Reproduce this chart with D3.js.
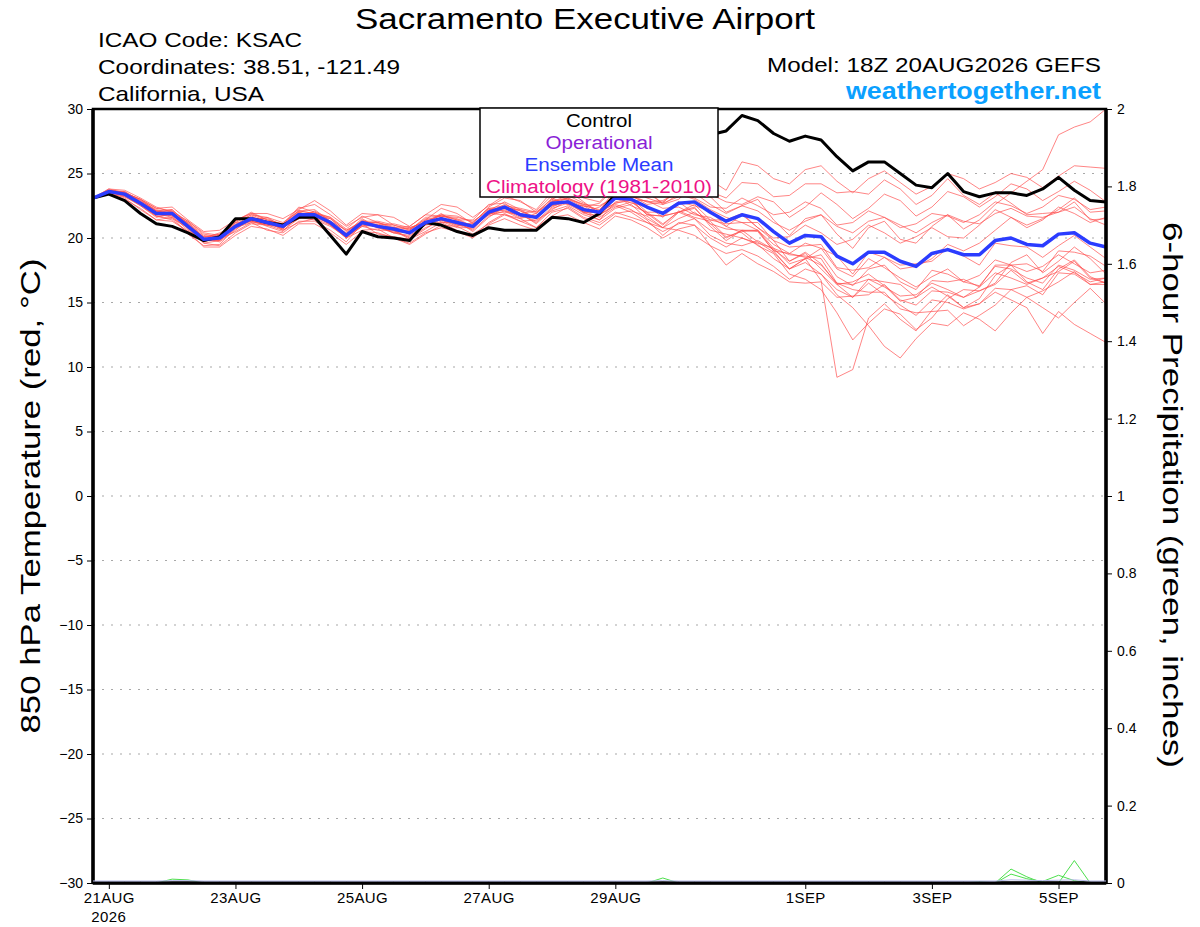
<!DOCTYPE html>
<html>
<meta charset="utf-8">
<head>
    <script src="https://d3js.org/d3.v7.min.js"></script>
    <style>
        body { margin: 0; background: #fff; }
        text { font-family: "Liberation Sans", Arial, sans-serif; }
    </style>
</head>
<body>
    <div id="chart"></div>

<script>
    // run info
    const runStart = Date.UTC(2026, 7, 20, 18);
    const stepHours = 6;

    // 850 hPa temperature, deg C, every 6 h
    const control = [
        23.1,23.4,22.9,21.9,21.1,20.9,20.4,19.8,20.1,21.5,21.5,21.2,21.0,21.6,21.6,20.2,
        18.75,20.5,20.1,20.0,19.8,21.2,21.0,20.5,20.2,20.8,20.6,20.6,20.6,21.6,21.5,21.2,21.9,
        23.4,24.5,25.5,26.2,27.0,27.6,28.0,28.3,29.5,29.1,28.1,27.5,27.9,27.6,26.3,25.2,
        25.9,25.9,25.0,24.1,23.9,25.0,23.6,23.2,23.5,23.5,23.3,23.8,24.7,23.7,22.9,22.8
    ];
    const ensembleMean = [
        23.1,23.6,23.4,22.7,21.9,21.9,20.9,19.9,20.0,20.9,21.5,21.2,20.9,21.8,21.8,21.2,
        20.2,21.2,20.9,20.7,20.4,21.2,21.5,21.2,20.9,22.0,22.4,21.8,21.6,22.7,22.8,22.2,22.0,
        23.1,23.0,22.4,21.9,22.7,22.8,22.0,21.3,21.8,21.5,20.5,19.6,20.2,20.1,18.6,18.0,
        18.9,18.9,18.2,17.8,18.8,19.1,18.7,18.7,19.8,20.0,19.5,19.4,20.3,20.4,19.6,19.3
    ];
    const members = [
        [23.1,23.8,23.7,23.1,22.4,22.0,21.3,20.4,20.2,21.3,21.9,21.4,21.0,22.3,22.6,21.8,
         20.9,21.6,21.8,21.0,20.7,21.4,22.3,21.9,21.1,22.4,23.1,22.9,22.0,23.0,23.7,22.8,21.9,
         23.5,24.4,23.8,22.6,23.0,24.1,23.2,22.0,22.5,23.0,21.4,20.2,21.5,21.8,20.3,19.2,
         20.8,21.3,19.9,19.6,20.9,21.8,20.7,21.4,22.6,23.5,24.4,25.3,28.0,28.6,29.0,30.0],
        [23.1,23.7,23.5,23.0,22.3,22.4,21.4,20.5,20.6,21.4,21.9,21.9,21.5,22.2,22.9,22.1,
         21.0,21.9,21.8,21.6,20.9,21.8,22.6,22.4,21.6,22.5,23.3,22.8,22.2,23.6,23.9,23.1,22.8,
         24.0,24.7,24.2,23.4,24.4,25.2,24.5,23.7,25.9,25.6,24.6,24.2,25.3,25.6,24.4,23.5,
         24.6,25.2,24.3,23.4,24.0,25.0,24.6,23.8,24.3,25.0,24.7,23.9,24.8,25.6,25.5,25.4],
        [23.1,23.5,23.1,22.2,21.4,21.6,20.3,19.4,19.5,20.8,21.2,20.6,20.4,21.3,21.3,20.6,
         19.7,21.1,20.3,20.1,19.9,20.5,21.2,20.6,20.1,21.2,21.9,21.3,20.8,22.0,22.3,21.5,21.0,
         21.9,22.1,21.7,20.8,21.5,22.0,21.1,20.0,20.6,19.7,18.9,17.6,18.4,16.7,9.2,9.8,
         13.8,14.9,13.7,12.8,14.4,15.6,14.6,15.3,17.1,17.9,16.6,16.0,17.6,18.3,17.0,16.5],
        [23.1,23.4,23.2,22.6,21.7,21.5,20.8,19.6,19.4,20.4,21.1,21.0,20.6,21.2,21.5,21.0,
         20.0,20.6,20.7,20.0,19.5,20.3,21.0,20.9,20.3,21.1,21.8,21.5,20.8,21.7,22.4,21.6,21.2,
         22.0,21.6,21.2,20.5,21.1,21.5,20.2,19.6,19.4,19.8,19.1,18.2,18.9,18.0,16.4,16.6,
         17.2,16.3,15.1,15.4,16.2,15.5,14.6,14.9,15.8,15.2,14.6,12.6,14.3,13.3,12.6,11.9],
        [23.1,23.6,23.6,22.9,22.1,21.7,21.1,20.0,19.7,20.6,21.6,21.3,20.6,21.5,22.1,21.3,
         20.1,21.0,21.1,20.6,19.9,20.7,21.5,21.3,20.5,21.6,22.4,21.9,21.1,22.2,22.9,22.0,21.4,
         22.8,23.1,22.0,21.1,22.0,22.4,20.9,19.8,20.6,20.5,19.0,17.6,18.1,17.2,15.6,14.6,
         13.2,11.6,10.7,12.2,13.4,13.2,14.2,13.7,12.8,14.2,15.4,14.6,13.8,15.0,16.1,14.9],
        [23.1,23.7,23.4,22.8,22.0,22.2,21.0,20.1,20.3,21.0,21.4,21.6,21.2,22.1,21.9,21.5,
         20.6,21.3,21.0,21.1,20.8,21.2,21.8,21.7,21.2,22.3,22.5,22.3,22.0,22.8,23.1,22.6,22.5,
         23.2,22.9,22.9,22.3,22.4,21.8,21.6,20.9,20.4,19.4,18.8,17.2,16.8,16.0,14.2,12.1,
         13.4,14.5,14.1,12.9,13.8,15.3,16.0,15.9,16.5,18.1,18.7,17.3,18.2,19.3,18.4,17.2],
        [23.1,23.6,23.2,22.5,21.6,21.9,20.7,19.7,20.2,21.2,21.3,21.0,21.0,22.0,21.6,21.1,
         20.4,21.5,20.8,20.4,20.6,21.5,21.4,20.9,21.2,22.3,22.1,21.5,21.9,23.1,22.6,22.0,22.4,
         23.3,22.5,22.0,22.0,22.8,21.9,21.4,21.4,21.9,20.8,20.0,20.1,21.0,20.4,19.5,19.9,
         21.0,20.4,19.6,20.1,20.8,20.1,20.0,21.0,22.2,21.6,20.8,21.4,22.4,21.9,21.2,21.6],
        [23.1,23.5,23.3,22.6,21.7,21.4,20.5,19.8,19.9,20.5,21.2,21.1,20.8,21.6,21.4,20.9,
         20.1,20.9,20.6,20.6,20.0,20.8,21.3,20.8,20.8,21.9,21.8,21.3,21.4,22.1,22.5,21.8,21.4,
         22.3,22.6,21.5,20.8,22.0,21.5,20.6,20.3,20.0,19.6,19.2,18.0,18.4,18.7,17.0,16.3,
         17.6,17.9,16.6,16.0,17.5,17.2,16.6,17.1,18.3,17.9,17.4,17.8,18.7,18.0,17.3,17.5],
        [23.1,23.8,23.5,23.0,22.3,22.1,21.3,20.3,20.1,21.3,22.0,21.4,21.1,22.4,22.0,21.6,
         20.7,21.7,21.2,20.8,20.9,21.8,21.7,21.4,21.4,22.6,22.7,21.9,22.1,23.3,23.0,22.4,22.7,
         23.9,23.3,22.6,22.8,23.6,23.1,22.4,22.3,23.1,22.5,21.8,22.0,22.8,22.3,21.0,21.2,
         22.1,21.6,20.8,21.1,21.9,21.7,21.2,21.8,22.8,22.5,21.9,22.4,23.3,23.0,22.2,22.4],
        [23.1,23.4,23.0,22.3,21.4,21.3,20.5,19.3,19.3,20.2,20.9,20.7,20.2,21.1,21.1,20.4,
         19.5,20.5,20.4,20.0,19.6,20.4,20.8,20.5,20.0,21.0,21.5,21.0,20.6,21.6,21.8,21.2,20.7,
         21.7,21.4,20.8,20.0,20.7,21.0,20.0,19.3,20.0,19.5,18.4,17.6,18.4,19.2,17.6,17.0,
         18.4,17.7,16.9,16.2,17.0,17.6,16.6,16.3,17.8,17.6,16.9,16.5,17.9,17.5,16.8,16.9],
        [23.1,23.6,23.5,22.7,21.9,22.1,20.8,19.9,20.3,20.8,21.7,21.2,20.7,22.0,21.7,21.5,
         20.3,21.4,20.9,20.6,20.8,21.2,21.9,21.1,20.8,22.2,22.3,22.2,21.5,23.0,22.6,22.5,21.8,
         22.6,22.2,21.4,20.2,21.2,21.0,19.4,18.8,19.1,18.6,17.8,16.8,17.6,17.2,16.0,15.4,
         16.5,15.6,14.8,14.0,15.2,15.0,14.5,14.9,16.1,16.0,16.3,15.6,17.3,17.2,16.4,16.6],
        [23.1,23.6,23.4,22.9,22.2,21.9,21.2,20.2,20.0,21.1,21.5,21.5,21.0,21.8,22.0,21.2,
         20.3,21.2,21.2,20.9,20.3,21.4,21.7,21.5,20.9,22.0,22.6,22.1,21.5,22.6,23.1,22.5,22.2,
         23.5,23.8,23.1,22.7,23.2,23.5,22.6,21.9,22.5,22.1,21.2,20.6,21.3,21.8,20.9,20.4,
         21.3,21.6,21.0,20.4,21.2,21.8,21.3,21.1,21.9,22.3,21.7,21.6,22.0,22.4,21.5,21.0],
        [23.1,23.6,23.3,22.5,21.7,21.8,20.9,19.6,19.8,20.9,21.3,21.1,20.9,21.6,21.8,21.0,
         20.0,21.2,20.8,20.5,20.4,21.1,21.4,21.0,21.0,21.9,22.2,21.6,21.7,22.5,22.8,21.9,21.7,
         23.1,23.3,22.8,22.6,23.4,23.0,22.2,21.6,21.2,20.6,19.5,18.8,18.5,17.9,16.5,16.4,
         16.8,16.2,15.5,15.6,16.5,16.0,15.4,16.2,17.3,16.9,16.4,16.9,17.8,17.3,16.6,16.9],
        [23.1,23.7,23.6,22.8,22.1,22.2,21.1,20.1,20.1,21.2,21.8,21.3,21.1,22.1,21.9,21.6,
         20.5,21.3,21.3,21.0,20.6,21.6,21.7,21.6,21.3,22.1,22.8,22.2,21.9,22.8,23.3,22.7,22.1,
         23.8,23.2,22.8,22.9,23.6,23.4,23.4,22.8,22.6,23.2,22.8,21.6,22.4,23.5,22.6,21.5,
         22.3,23.4,22.9,21.7,22.4,23.6,23.2,22.4,23.2,24.2,23.8,22.9,23.6,24.4,23.7,22.8],
        [23.1,23.5,23.3,22.7,21.9,21.6,20.8,19.9,19.8,20.7,21.4,20.9,20.5,21.8,21.6,21.2,
         20.0,20.9,21.0,20.4,20.1,21.0,21.2,21.2,20.6,21.7,22.1,21.8,21.2,22.3,22.7,22.1,21.6,
         22.4,22.8,21.9,21.0,22.1,21.6,21.3,20.1,20.5,20.6,19.0,18.8,19.6,19.2,18.6,17.2,
         18.9,18.5,17.9,18.0,18.2,19.2,18.6,17.9,19.6,19.4,19.3,18.5,19.4,20.2,19.3,18.4],
        [23.1,23.6,23.4,22.6,21.8,22.0,20.9,19.9,20.1,20.9,21.4,21.2,20.9,21.7,21.8,21.2,
         20.3,21.2,20.8,20.8,20.3,21.3,21.4,21.1,21.1,21.8,22.4,21.7,21.7,22.6,22.8,22.3,21.8,
         22.5,22.0,21.2,20.8,20.6,20.2,19.4,17.9,18.8,18.0,17.4,16.6,16.5,16.6,15.4,15.5,
         15.6,16.4,15.2,14.8,15.9,15.8,15.4,15.9,16.4,17.5,16.5,16.9,17.4,18.2,16.9,16.5],
        [23.1,23.7,23.5,23.0,22.1,21.8,21.2,20.0,20.4,21.0,21.8,21.6,20.9,22.1,22.2,21.3,
         20.6,21.2,21.2,20.7,20.7,21.1,21.8,21.4,20.9,22.2,22.4,22.1,21.6,22.9,23.0,22.6,22.0,
         23.0,23.8,23.5,22.7,24.0,24.6,23.6,23.1,24.3,24.2,23.2,23.3,24.2,24.2,23.5,23.6,
         23.4,24.5,23.8,22.6,23.3,24.6,23.3,22.6,23.5,22.7,21.8,21.9,22.0,22.8,21.4,21.5],
        [23.1,23.5,23.4,22.7,21.9,21.7,20.6,19.8,19.8,20.9,21.3,21.0,20.8,21.5,21.9,21.0,
         20.1,21.0,20.9,20.4,20.2,21.0,21.6,21.0,20.7,21.9,22.0,21.8,21.3,22.4,22.9,22.0,22.0,
         22.7,23.0,21.8,21.7,22.0,22.6,21.4,21.1,21.2,21.2,19.8,19.3,19.4,19.5,17.7,17.5,
         17.7,18.5,17.6,17.8,18.4,19.5,19.0,19.6,20.6,21.6,21.0,21.5,22.2,23.1,22.0,22.1],
        [23.1,23.6,23.3,22.8,22.0,22.0,20.9,19.7,20.1,20.8,21.6,21.1,20.9,21.9,21.7,21.3,
         20.2,21.3,20.9,20.8,20.3,21.3,21.5,21.3,20.8,22.1,22.3,21.9,21.5,22.8,22.7,22.3,21.9,
         23.2,22.7,22.5,21.6,22.8,22.5,22.1,20.9,21.8,20.8,19.8,18.2,18.8,17.6,16.4,15.4,
         16.8,16.6,16.4,15.4,16.7,16.6,16.8,16.2,17.9,17.9,18.0,17.4,19.0,18.9,18.6,17.8],
        [23.1,23.5,23.5,22.8,22.1,21.9,21.0,19.8,20.0,21.0,21.4,21.2,20.7,21.9,21.8,21.1,
         20.1,21.2,21.0,20.6,20.4,21.1,21.6,21.1,20.9,21.8,22.4,21.7,21.7,22.5,22.9,22.0,22.0,
         22.7,22.9,21.8,21.7,22.0,22.3,21.1,20.7,20.6,20.6,19.2,18.7,18.6,18.4,16.5,16.0,
         15.8,15.8,14.5,14.2,14.3,14.4,13.2,14.0,14.8,16.0,15.4,15.9,16.6,17.4,16.4,16.4]
    ];

    // 6-hour precipitation, inches
    const precipMembers = [
        [0,0,0,0,0,0.010,0.008,0,0,0,0,0,0,0,0,0, 0,0,0,0,0,0,0,0,0,0,0,0,0,0,0,0,0,
         0,0,0,0,0,0,0,0,0,0,0,0,0,0,0,0, 0,0,0,0,0,0,0,0,0,0,0,0,0,0,0,0],
        [0,0,0,0,0,0,0,0,0,0,0,0,0,0,0,0, 0,0,0,0,0,0,0,0,0,0,0,0,0,0,0,0,0,
         0,0,0,0.013,0,0,0,0,0,0,0,0,0,0,0,0, 0,0,0,0,0,0,0,0,0,0,0,0,0,0,0,0],
        [0,0,0,0,0,0,0,0,0,0,0,0,0,0,0,0, 0,0,0,0,0,0,0,0,0,0,0,0,0,0,0,0,0,
         0,0,0,0,0,0,0,0,0,0,0,0,0,0,0,0, 0,0,0,0,0,0,0,0.004,0,0,0,0,0,0,0,0],
        [0,0,0,0,0,0,0,0,0,0,0,0,0,0,0,0, 0,0,0,0,0,0,0,0,0,0,0,0,0,0,0,0,0,
         0,0,0,0,0,0,0,0,0,0,0,0,0,0,0,0, 0,0,0,0,0,0,0,0,0,0.036,0.016,0,0,0,0,0],
        [0,0,0,0,0,0,0,0,0,0,0,0,0,0,0,0, 0,0,0,0,0,0,0,0,0,0,0,0,0,0,0,0,0,
         0,0,0,0,0,0,0,0,0,0,0,0,0,0,0,0, 0,0,0,0,0,0,0,0,0,0.023,0.011,0.004,0.020,0.006,0,0],
        [0,0,0,0,0,0,0,0,0,0,0,0,0,0,0,0, 0,0,0,0,0,0,0,0,0,0,0,0,0,0,0,0,0,
         0,0,0,0,0,0,0,0,0,0,0,0,0,0,0,0, 0,0,0,0,0,0,0,0,0,0,0,0,0,0.058,0,0]
    ];
    const precipMean = [
        0,0,0,0,0,0.001,0.001,0,0,0,0,0,0,0,0,0, 0,0,0,0,0,0,0,0,0,0,0,0,0,0,0,0,0,
        0,0,0,0.001,0,0,0,0,0,0,0,0,0,0,0,0, 0,0,0,0,0,0,0,0,0,0.003,0.002,0.001,0.002,0.003,0,0
    ];

    // axes
    const tempTicks = [30, 25, 20, 15, 10, 5, 0, -5, -10, -15, -20, -25, -30];
    const precipTicks = [0, 0.2, 0.4, 0.6, 0.8, 1, 1.2, 1.4, 1.6, 1.8, 2];
    const dateTicks = ["2026-08-21", "2026-08-23", "2026-08-25", "2026-08-27",
                       "2026-08-29", "2026-09-01", "2026-09-03", "2026-09-05"];

    const legendItems = [
        { label: "Control", color: "#000000", len: 66 },
        { label: "Operational", color: "#8a1fd6", len: 107 },
        { label: "Ensemble Mean", color: "#2b3cff", len: 149 },
        { label: "Climatology (1981-2010)", color: "#ee1186", len: 226 }
    ];

    const W = 1200, H = 927;
    const plot = { left: 93, right: 1106, top: 109, bottom: 883 };

    const svg = d3.select("#chart")
        .append("svg")
            .attr("width", W)
            .attr("height", H);

    const times = control.map((d, i) => new Date(runStart + i * stepHours * 3600e3));

    const x = d3.scaleUtc()
        .domain([times[0], times[times.length - 1]])
        .range([plot.left, plot.right]);
    const y = d3.scaleLinear().domain([-30, 30]).range([plot.bottom, plot.top]);
    const yP = d3.scaleLinear().domain([0, 2]).range([plot.bottom, plot.top]);

    // dotted grid
    svg.append("g")
        .selectAll("line")
        .data(tempTicks.filter(t => t > -30 && t < 30))
        .join("line")
            .attr("x1", plot.left).attr("x2", plot.right)
            .attr("y1", d => y(d)).attr("y2", d => y(d))
            .attr("stroke", "#a8a8a8")
            .attr("stroke-width", 1.2)
            .attr("stroke-dasharray", "2,7");

    const lineT = d3.line().x((d, i) => x(times[i])).y(d => y(d));
    const lineP = d3.line().x((d, i) => x(times[i])).y(d => yP(d));

    // precip
    svg.append("g")
        .selectAll("path")
        .data(precipMembers)
        .join("path")
            .attr("d", lineP)
            .attr("fill", "none")
            .attr("stroke", "#4ddf4d")
            .attr("stroke-width", 1);

    // members
    svg.append("g")
        .selectAll("path")
        .data(members)
        .join("path")
            .attr("d", lineT)
            .attr("fill", "none")
            .attr("stroke", "#ff4a4a")
            .attr("stroke-opacity", 0.85)
            .attr("stroke-width", 0.8);

    svg.append("path")
        .attr("d", lineT(control))
        .attr("fill", "none")
        .attr("stroke", "#000")
        .attr("stroke-width", 3)
        .attr("stroke-linejoin", "round");

    svg.append("path")
        .attr("d", lineT(ensembleMean))
        .attr("fill", "none")
        .attr("stroke", "#2b3cff")
        .attr("stroke-width", 3.5)
        .attr("stroke-linejoin", "round");

    // frame
    svg.append("rect")
        .attr("x", plot.left).attr("y", plot.top)
        .attr("width", plot.right - plot.left)
        .attr("height", plot.bottom - plot.top)
        .attr("fill", "none")
        .attr("stroke", "#000")
        .attr("stroke-width", 2.5);
    [plot.left, plot.right].forEach(px => {
        svg.append("line")
            .attr("x1", px).attr("x2", px)
            .attr("y1", plot.top).attr("y2", plot.bottom)
            .attr("stroke", "#000").attr("stroke-width", 3.5);
    });
    svg.append("line")
        .attr("x1", plot.left).attr("x2", plot.right)
        .attr("y1", plot.bottom).attr("y2", plot.bottom)
        .attr("stroke", "#000").attr("stroke-width", 3.5);

    // ensemble mean precip sits right on the zero line
    svg.append("path")
        .attr("d", lineP(precipMean))
        .attr("transform", "translate(0,-2)")
        .attr("fill", "none")
        .attr("stroke", "#b4b8e8")
        .attr("stroke-width", 1);

    // left axis
    const axL = svg.append("g")
        .attr("transform", `translate(${plot.left - 1},0)`)
        .call(d3.axisLeft(y).tickValues(tempTicks).tickSize(5).tickPadding(4));
    axL.select(".domain").remove();
    axL.selectAll("text").attr("font-size", 14).attr("font-family", "Liberation Sans, Arial");

    // right axis
    const axR = svg.append("g")
        .attr("transform", `translate(${plot.right + 1},0)`)
        .call(d3.axisRight(yP).tickValues(precipTicks).tickSize(5).tickPadding(5)
            .tickFormat(d3.format("~g")));
    axR.select(".domain").remove();
    axR.selectAll("text").attr("font-size", 14).attr("font-family", "Liberation Sans, Arial");

    // bottom axis
    const fmt = d3.utcFormat("%-d%b");
    const axB = svg.append("g")
        .attr("transform", `translate(0,${plot.bottom + 1})`)
        .call(d3.axisBottom(x)
            .tickValues(dateTicks.map(s => new Date(s + "T00:00:00Z")))
            .tickSize(5).tickPadding(3)
            .tickFormat(d => fmt(d).toUpperCase()));
    axB.select(".domain").remove();
    axB.selectAll("text")
        .attr("font-size", 15)
        .attr("letter-spacing", 0.4)
        .attr("font-family", "Liberation Sans, Arial");
    svg.append("text")
        .attr("x", x(new Date(dateTicks[0] + "T00:00:00Z")))
        .attr("y", 922)
        .attr("text-anchor", "middle")
        .attr("font-size", 15)
        .attr("letter-spacing", 0.4)
        .text("2026");

    // legend
    svg.append("rect")
        .attr("x", 480).attr("y", 108)
        .attr("width", 238).attr("height", 89)
        .attr("fill", "#fff")
        .attr("stroke", "#000")
        .attr("stroke-width", 1.5);
    svg.append("g")
        .selectAll("text")
        .data(legendItems)
        .join("text")
            .attr("x", 599)
            .attr("y", (d, i) => 127 + i * 22)
            .attr("text-anchor", "middle")
            .attr("font-size", 18)
            .attr("textLength", d => d.len)
            .attr("lengthAdjust", "spacingAndGlyphs")
            .attr("fill", d => d.color)
            .text(d => d.label);

    // titles
    svg.append("text")
        .attr("x", 585).attr("y", 29)
        .attr("text-anchor", "middle")
        .attr("font-size", 30)
        .attr("textLength", 460)
        .attr("lengthAdjust", "spacingAndGlyphs")
        .text("Sacramento Executive Airport");

    const info = [
        { t: "ICAO Code: KSAC", len: 204 },
        { t: "Coordinates: 38.51, -121.49", len: 302 },
        { t: "California, USA", len: 166 }
    ];
    svg.append("g")
        .selectAll("text")
        .data(info)
        .join("text")
            .attr("x", 98)
            .attr("y", (d, i) => 47 + i * 27)
            .attr("font-size", 21)
            .attr("textLength", d => d.len)
            .attr("lengthAdjust", "spacingAndGlyphs")
            .text(d => d.t);

    svg.append("text")
        .attr("x", 1101).attr("y", 72)
        .attr("text-anchor", "end")
        .attr("font-size", 21)
        .attr("textLength", 334)
        .attr("lengthAdjust", "spacingAndGlyphs")
        .text("Model: 18Z 20AUG2026 GEFS");
    svg.append("text")
        .attr("x", 1101).attr("y", 99)
        .attr("text-anchor", "end")
        .attr("font-size", 24)
        .attr("font-weight", "bold")
        .attr("fill", "#0aa0ff")
        .attr("textLength", 255)
        .attr("lengthAdjust", "spacingAndGlyphs")
        .text("weathertogether.net");

    svg.append("text")
        .attr("transform", `translate(40,496)rotate(-90)`)
        .attr("text-anchor", "middle")
        .attr("font-size", 28)
        .attr("textLength", 475)
        .attr("lengthAdjust", "spacingAndGlyphs")
        .text("850 hPa Temperature (red, \u00B0C)");
    svg.append("text")
        .attr("transform", `translate(1163,495)rotate(90)`)
        .attr("text-anchor", "middle")
        .attr("font-size", 28)
        .attr("textLength", 546)
        .attr("lengthAdjust", "spacingAndGlyphs")
        .text("6-hour Precipitation (green, inches)");
</script>
</body>
</html>
